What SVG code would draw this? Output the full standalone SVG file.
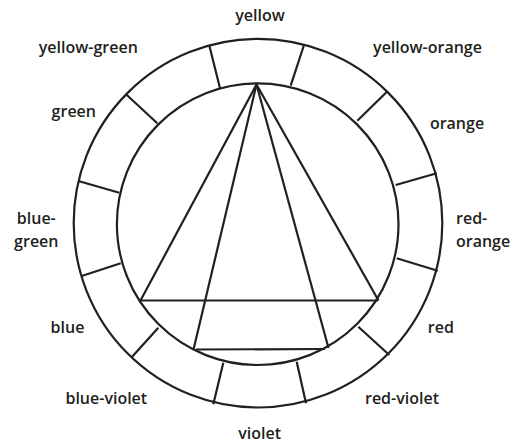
<svg xmlns="http://www.w3.org/2000/svg" width="513" height="445" viewBox="0 0 513 445">
  <style>
    .ln { stroke: #231f20; stroke-width: 2.2; fill: none; }
    .lbl { font-family: "Open Sans", "Liberation Sans", sans-serif; font-size: 16px; font-weight: 600; fill: #231f20; }
    .c { text-anchor: middle; }
  </style>
  <rect width="513" height="445" fill="#ffffff"/>
  <g id="wheel">
    <circle class="ln" cx="258" cy="223.2" r="184.3"/>
    <circle class="ln" cx="257.7" cy="224.2" r="140.8"/>
  </g>
  <g id="dividers">
    <line class="ln" x1="209.3" y1="45.5" x2="220" y2="88.3"/>
    <line class="ln" x1="304" y1="45" x2="290.7" y2="85.7"/>
    <line class="ln" x1="387.7" y1="91" x2="357.3" y2="120.7"/>
    <line class="ln" x1="436.7" y1="173.3" x2="395.7" y2="185"/>
    <line class="ln" x1="437.7" y1="270.7" x2="396.7" y2="258.3"/>
    <line class="ln" x1="389.3" y1="355" x2="358.3" y2="326.7"/>
    <line class="ln" x1="306" y1="403.3" x2="296.7" y2="361.7"/>
    <line class="ln" x1="213.3" y1="404.3" x2="223.3" y2="362.7"/>
    <line class="ln" x1="131.7" y1="357.3" x2="158.3" y2="327.7"/>
    <line class="ln" x1="81.7" y1="276" x2="120.7" y2="263.3"/>
    <line class="ln" x1="78.3" y1="181" x2="119.3" y2="192.7"/>
    <line class="ln" x1="126" y1="94.3" x2="157.3" y2="123.3"/>
  </g>
  <g id="connectors">
    <line class="ln" x1="256.5" y1="84.5" x2="140.5" y2="300.5"/>
    <line class="ln" x1="256.5" y1="84.5" x2="378.5" y2="300.5"/>
    <line class="ln" x1="256.5" y1="84.5" x2="193.5" y2="349.5"/>
    <line class="ln" x1="256.5" y1="84.5" x2="328.5" y2="348"/>
    <line class="ln" x1="140.5" y1="300.5" x2="378" y2="300.5"/>
    <line class="ln" x1="196" y1="349.5" x2="325" y2="349"/>
  </g>
  <g id="label-yellow"><text class="lbl c" x="260" y="21">yellow</text></g>
  <g id="label-yellow-green"><text class="lbl c" x="88.3" y="52.5">yellow-green</text></g>
  <g id="label-yellow-orange"><text class="lbl c" x="427.5" y="52.5">yellow-orange</text></g>
  <g id="label-green"><text class="lbl c" x="73.8" y="117.3">green</text></g>
  <g id="label-orange"><text class="lbl c" x="457" y="129.3">orange</text></g>
  <g id="label-blue-green"><text class="lbl c" x="36.3" y="224">blue-</text><text class="lbl c" x="36.3" y="247.3">green</text></g>
  <g id="label-red-orange"><text class="lbl" x="456" y="224">red-</text><text class="lbl" x="456" y="247.3">orange</text></g>
  <g id="label-blue"><text class="lbl c" x="67.5" y="332.7">blue</text></g>
  <g id="label-red"><text class="lbl c" x="440.8" y="332.7">red</text></g>
  <g id="label-blue-violet"><text class="lbl c" x="106.3" y="404.3">blue-violet</text></g>
  <g id="label-red-violet"><text class="lbl c" x="402" y="404.3">red-violet</text></g>
  <g id="label-violet"><text class="lbl c" x="259.7" y="438.5">violet</text></g>
</svg>
